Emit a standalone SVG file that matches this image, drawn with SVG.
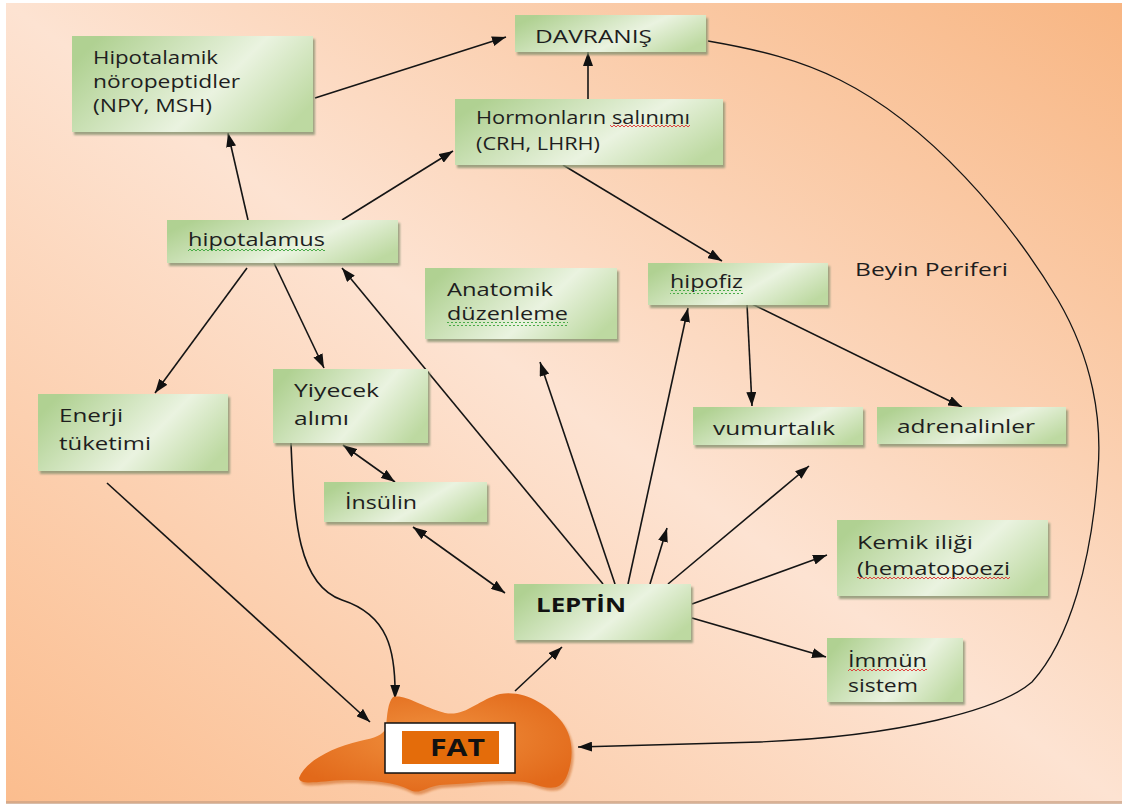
<svg xmlns="http://www.w3.org/2000/svg" width="1133" height="809" viewBox="0 0 1133 809">
<defs>
<linearGradient id="bg" x1="1" y1="0" x2="0" y2="1">
<stop offset="0" stop-color="#f8b683"/>
<stop offset="0.5" stop-color="#fde3d2"/>
<stop offset="1" stop-color="#fbbd8e"/>
</linearGradient>
<linearGradient id="boxg" x1="0" y1="0.3" x2="1" y2="0.7">
<stop offset="0" stop-color="#b0d192"/>
<stop offset="0.6" stop-color="#eaf3e0"/>
<stop offset="1" stop-color="#bdd9a1"/>
</linearGradient>
<radialGradient id="fatg" cx="0.5" cy="0.45" r="0.6">
<stop offset="0" stop-color="#f0913f"/>
<stop offset="1" stop-color="#e2691a"/>
</radialGradient>
<filter id="blur" x="-10%" y="-10%" width="120%" height="130%"><feGaussianBlur stdDeviation="1.2"/></filter>
<marker id="arr" viewBox="0 0 14 10" refX="14" refY="5" markerWidth="14" markerHeight="10" markerUnits="userSpaceOnUse" orient="auto-start-reverse">
<path d="M0,0 L14,5 L0,10 z" fill="#111"/>
</marker>
<pattern id="wg" patternUnits="userSpaceOnUse" width="4" height="4">
<path d="M0,3 L2,1 L4,3" fill="none" stroke="#3aa53a" stroke-width="0.9"/>
</pattern>
<pattern id="wr" patternUnits="userSpaceOnUse" width="4" height="4">
<path d="M0,3 L2,1 L4,3" fill="none" stroke="#e03030" stroke-width="0.9"/>
</pattern>
<style>
.box{fill:url(#boxg)}
.sh{fill:#86926f;opacity:0.8;filter:url(#blur)}
.t{font-family:"Open Sans","DejaVu Sans",sans-serif;font-size:18px;fill:#1e1e1e}
.b{font-weight:bold;fill:#111}
.c{fill:none;stroke:#151515;stroke-width:1.6}
.a{marker-end:url(#arr)}
.d{marker-start:url(#arr);marker-end:url(#arr)}
</style>
</defs>
<rect x="0" y="0" width="1133" height="809" fill="#ffffff"/>
<rect x="6" y="3" width="1116" height="800" fill="url(#bg)"/>
<rect x="6" y="801" width="1116" height="3" fill="#c9a184" opacity="0.7"/>

<g id="connectors">
<path class="c a" d="M315,98 L506,37"/>
<path class="c a" d="M588,99 L588,52"/>
<path class="c a" d="M342,220 L453,151"/>
<path class="c a" d="M563,165 L722,261"/>
<path class="c a" d="M248,220 L228,133"/>
<path class="c a" d="M247,268 L155,393"/>
<path class="c a" d="M274,263 L324,368"/>
<path class="c a" d="M603,584 L342,268"/>
<path class="c a" d="M615,584 L540,362"/>
<path class="c a" d="M628,584 L688,308"/>
<path class="c a" d="M650,584 L667,528"/>
<path class="c a" d="M668,584 L809,466"/>
<path class="c a" d="M692,604 L827,555"/>
<path class="c a" d="M692,618 L826,657"/>
<path class="c a" d="M747,304 L752,406"/>
<path class="c a" d="M752,304 L962,407"/>
<path class="c d" d="M343,445 L395,482"/>
<path class="c d" d="M413,527 L505,593"/>
<path class="c a" d="M107,483 L370,722"/>
<path class="c a" d="M291,443 C294,520 298,585 342,600 C388,615 396,650 395,699"/>
<path class="c a" d="M515,691 L562,647"/>
<path class="c a" style="stroke-width:1.3" d="M708,41 C760,50 800,60 840,80 C930,125 1010,220 1058,300 C1093,360 1102,420 1098,470 C1092,560 1070,640 1032,682 C1000,710 900,736 760,742 L578,747"/>
</g>

<g id="n-hipotalamik">
<rect class="sh" x="74" y="39" width="241" height="96"/>
<rect class="box" x="72" y="36" width="241" height="96"/>
<text class="t" x="93" y="64" textLength="125" lengthAdjust="spacingAndGlyphs">Hipotalamik</text>
<text class="t" x="93" y="88" textLength="147" lengthAdjust="spacingAndGlyphs">nöropeptidler</text>
<text class="t" x="93" y="112" textLength="119" lengthAdjust="spacingAndGlyphs">(NPY, MSH)</text>
</g>

<g id="n-davranis">
<rect class="sh" x="517" y="18" width="191" height="37"/>
<rect class="box" x="515" y="15" width="191" height="37"/>
<text class="t" x="535" y="43" textLength="117" lengthAdjust="spacingAndGlyphs">DAVRANIŞ</text>
</g>

<g id="n-hormon">
<rect class="sh" x="457" y="102" width="268" height="66"/>
<rect class="box" x="455" y="99" width="268" height="66"/>
<text class="t" x="476" y="124" textLength="214" lengthAdjust="spacingAndGlyphs">Hormonların salınımı</text>
<rect x="610" y="125" width="80" height="4" fill="url(#wr)"/>
<text class="t" x="476" y="150" textLength="124" lengthAdjust="spacingAndGlyphs">(CRH, LHRH)</text>
</g>

<g id="n-hipotalamus">
<rect class="sh" x="169" y="223" width="231" height="43"/>
<rect class="box" x="167" y="220" width="231" height="43"/>
<text class="t" x="188" y="246" textLength="137" lengthAdjust="spacingAndGlyphs">hipotalamus</text>
<rect x="188" y="248" width="137" height="4" fill="url(#wg)"/>
</g>

<g id="n-anatomik">
<rect class="sh" x="427" y="271" width="192" height="71"/>
<rect class="box" x="425" y="268" width="192" height="71"/>
<text class="t" x="447" y="296" textLength="106" lengthAdjust="spacingAndGlyphs">Anatomik</text>
<text class="t" x="447" y="320" textLength="121" lengthAdjust="spacingAndGlyphs">düzenleme</text>
<rect x="447" y="322" width="121" height="4" fill="url(#wg)"/>
</g>

<g id="n-hipofiz">
<rect class="sh" x="650" y="266" width="180" height="42"/>
<rect class="box" x="648" y="263" width="180" height="42"/>
<text class="t" x="670" y="288" textLength="73" lengthAdjust="spacingAndGlyphs">hipofiz</text>
<rect x="670" y="290" width="73" height="4" fill="url(#wg)"/>
</g>

<g id="n-vumurtalik">
<rect class="sh" x="695" y="410" width="170" height="38"/>
<rect class="box" x="693" y="407" width="170" height="38"/>
<text class="t" x="713" y="435" textLength="122" lengthAdjust="spacingAndGlyphs">vumurtalık</text>
</g>

<g id="n-adrenalinler">
<rect class="sh" x="879" y="410" width="189" height="37"/>
<rect class="box" x="877" y="407" width="189" height="37"/>
<text class="t" x="897" y="433" textLength="138" lengthAdjust="spacingAndGlyphs">adrenalinler</text>
</g>

<g id="n-kemik">
<rect class="sh" x="839" y="523" width="211" height="76"/>
<rect class="box" x="837" y="520" width="211" height="76"/>
<text class="t" x="857" y="549" textLength="116" lengthAdjust="spacingAndGlyphs">Kemik iliği</text>
<text class="t" x="857" y="575" textLength="153" lengthAdjust="spacingAndGlyphs">(hematopoezi</text>
<rect x="857" y="576" width="153" height="4" fill="url(#wr)"/>
</g>

<g id="n-immun">
<rect class="sh" x="829" y="641" width="136" height="64"/>
<rect class="box" x="827" y="638" width="136" height="64"/>
<text class="t" x="848" y="667" textLength="79" lengthAdjust="spacingAndGlyphs">İmmün</text>
<rect x="848" y="669" width="79" height="4" fill="url(#wr)"/>
<text class="t" x="848" y="692" textLength="70" lengthAdjust="spacingAndGlyphs">sistem</text>
</g>

<g id="n-enerji">
<rect class="sh" x="40" y="397" width="190" height="77"/>
<rect class="box" x="38" y="394" width="190" height="77"/>
<text class="t" x="59" y="422" textLength="64" lengthAdjust="spacingAndGlyphs">Enerji</text>
<text class="t" x="59" y="450" textLength="92" lengthAdjust="spacingAndGlyphs">tüketimi</text>
</g>

<g id="n-yiyecek">
<rect class="sh" x="275" y="372" width="155" height="74"/>
<rect class="box" x="273" y="369" width="155" height="74"/>
<text class="t" x="294" y="397" textLength="85" lengthAdjust="spacingAndGlyphs">Yiyecek</text>
<text class="t" x="294" y="425" textLength="55" lengthAdjust="spacingAndGlyphs">alımı</text>
</g>

<g id="n-insulin">
<rect class="sh" x="326" y="485" width="163" height="40"/>
<rect class="box" x="324" y="482" width="163" height="40"/>
<text class="t" x="345" y="509" textLength="72" lengthAdjust="spacingAndGlyphs">İnsülin</text>
</g>

<g id="n-leptin">
<rect class="sh" x="516" y="587" width="177" height="56"/>
<rect class="box" x="514" y="584" width="177" height="56"/>
<text class="t b" x="536" y="612" style="font-size:20px" textLength="90" lengthAdjust="spacingAndGlyphs">LEPTİN</text>
</g>

<g id="n-fat">
<path d="M299,778 C305,762 330,748 360,741 C375,738 383,735 386,728 C387,715 388,702 393,697 C405,694 420,706 445,713 C465,717 478,700 500,694 C525,690 548,705 562,722 C574,738 574,760 566,778 C560,790 550,790 530,783 C505,778 470,784 440,785 C425,787 420,795 410,790 C395,782 370,780 345,780 C320,781 300,786 299,778 Z" fill="#c85a10" opacity="0.5" transform="translate(2,3)" filter="url(#blur)"/>
<path d="M299,778 C305,762 330,748 360,741 C375,738 383,735 386,728 C387,715 388,702 393,697 C405,694 420,706 445,713 C465,717 478,700 500,694 C525,690 548,705 562,722 C574,738 574,760 566,778 C560,790 550,790 530,783 C505,778 470,784 440,785 C425,787 420,795 410,790 C395,782 370,780 345,780 C320,781 300,786 299,778 Z" fill="url(#fatg)"/>
<rect x="385" y="723" width="130" height="50" fill="#ffffff" stroke="#111" stroke-width="1.5"/>
<rect x="402" y="731" width="97" height="33" fill="#e46c0a"/>
<text class="t b" x="430" y="756" style="font-size:24px" textLength="55" lengthAdjust="spacingAndGlyphs">FAT</text>
</g>

<g id="label-beyin">
<text class="t" x="855" y="276" textLength="153" lengthAdjust="spacingAndGlyphs">Beyin Periferi</text>
</g>
</svg>
